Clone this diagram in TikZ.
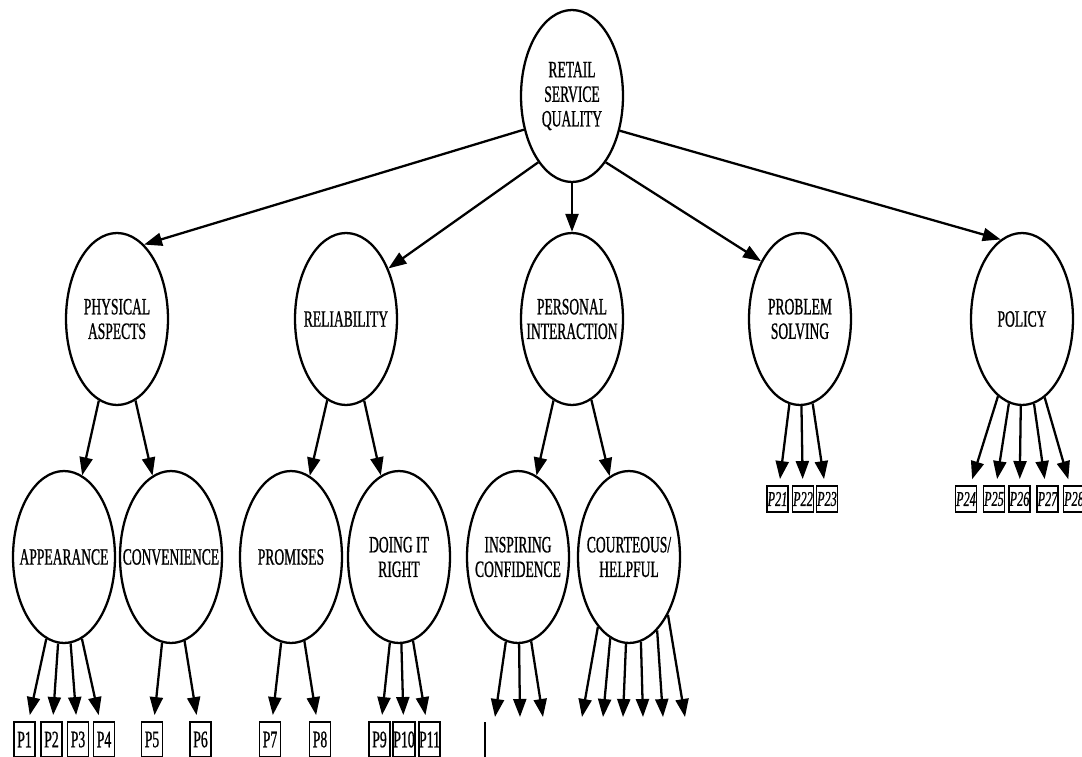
\documentclass[tikz,border=0pt]{standalone}
\usepackage{fontspec}
\newfontfamily\condfont[FakeStretch=0.58,FakeBold=0.8]{Liberation Serif}
\usetikzlibrary{arrows.meta,shapes.geometric}

\begin{document}
\begin{tikzpicture}[x=0.02cm,y=-0.02cm,
	factor/.style={draw,ellipse,line width=1.3pt,minimum width=2.04cm,minimum height=3.44cm,inner sep=0pt},
	ftext/.style={inner sep=0pt,align=center,font=\condfont\fontsize{13.3}{14}\selectfont},
	item/.style={draw,rectangle,line width=1.1pt,minimum width=0.42cm,minimum height=0.52cm,
		inner sep=0pt,font=\condfont\fontsize{12}{12}\selectfont\itshape},
	lowitem/.style={item,minimum height=0.7cm,font=\condfont\fontsize{13.5}{13.5}\selectfont},
	arr/.style={-{Triangle[length=0.36cm,width=0.26cm]},line width=1.3pt}]
				\useasboundingbox (0,0) rectangle (1082,757);
				\clip (0,0) rectangle (1082,757);
				% top
				\node[factor] (rsq) at (572,96) {};
				\node[ftext] (rsqt) at (rsq) {RETAIL\\SERVICE\\QUALITY};
				% dimensions
				\node[factor] (phys) at (117,319) {};
				\node[ftext] (physt) at (phys) {PHYSICAL\\ASPECTS};
				\node[factor] (rel) at (346,319) {};
				\node[ftext] (relt) at (rel) {RELIABILITY};
				\node[factor] (pers) at (572,319) {};
				\node[ftext] (perst) at (pers) {PERSONAL\\INTERACTION};
				\node[factor] (prob) at (800,319) {};
				\node[ftext] (probt) at (prob) {PROBLEM\\SOLVING};
				\node[factor] (pol) at (1022,319) {};
				\node[ftext] (polt) at (pol) {POLICY};
				% sub-dimensions
				\node[factor] (app) at (64,557) {};
				\node[ftext] (appt) at (app) {APPEARANCE};
				\node[factor] (conv) at (171,557) {};
				\node[ftext] (convt) at (conv) {CONVENIENCE};
				\node[factor] (prom) at (291,557) {};
				\node[ftext] (promt) at (prom) {PROMISES};
				\node[factor] (doing) at (399,557) {};
				\node[ftext] (doingt) at (doing) {DOING IT\\RIGHT};
				\node[factor] (insp) at (518,557) {};
				\node[ftext] (inspt) at (insp) {INSPIRING\\CONFIDENCE};
				\node[factor] (court) at (629,557) {};
				\node[ftext] (courtt) at (court) {COURTEOUS/\\HELPFUL};
				% items
				\node[lowitem] (p1) at (24.5,739.5) {P1};
				\node[lowitem] (p2) at (51.5,739.5) {P2};
				\node[lowitem] (p3) at (78,739.5) {P3};
				\node[lowitem] (p4) at (104,739.5) {P4};
				\node[lowitem] (p5) at (152,739.5) {P5};
				\node[lowitem] (p6) at (200.5,739.5) {P6};
				\node[lowitem] (p7) at (270,739.5) {P7};
				\node[lowitem] (p8) at (320,739.5) {P8};
				\node[lowitem] (p9) at (379.5,739.5) {P9};
				\node[lowitem] (p10) at (404,739.5) {P10};
				\node[lowitem] (p11) at (429.5,739.5) {P11};
				\node[item] (p21) at (777.5,499) {P21};
				\node[item] (p22) at (803,499) {P22};
				\node[item] (p23) at (827,499) {P23};
				\node[item] (p24) at (966,499) {P24};
				\node[item] (p25) at (994,499) {P25};
				\node[item] (p26) at (1019.5,499) {P26};
				\node[item] (p27) at (1047.5,499) {P27};
				\node[item] (p28) at (1074,499) {P28};
				\coordinate (i1) at (495,717);
				\coordinate (i2) at (520,717);
				\coordinate (i3) at (543,717);
				\coordinate (c1) at (582,717);
				\coordinate (c2) at (603,717);
				\coordinate (c3) at (623,717);
				\coordinate (c4) at (643,717);
				\coordinate (c5) at (663,717);
				\coordinate (c6) at (685,717);
				\coordinate (cut) at (485,722);
				\coordinate (cutend) at (485,757);
				% arrows
				\draw[arr] (rsq.215) to (phys.70);
				\draw[arr] (rsq.243) to (rel.50);
				\draw[arr] (rsq.south) to (pers.north);
				\draw[arr] (rsq.297) to (prob.124);
				\draw[arr] (rsq.324) to (pol.105);
				\draw[arr] (phys) to (app);
				\draw[arr] (phys) to (conv);
				\draw[arr] (rel) to (prom);
				\draw[arr] (rel) to (doing);
				\draw[arr] (pers) to (insp);
				\draw[arr] (pers) to (court);
				\draw[arr,shorten >=0.12cm] (app) to (p1);
				\draw[arr,shorten >=0.12cm] (app) to (p2);
				\draw[arr,shorten >=0.12cm] (app) to (p3);
				\draw[arr,shorten >=0.12cm] (app) to (p4);
				\draw[arr,shorten >=0.12cm] (conv) to (p5);
				\draw[arr,shorten >=0.12cm] (conv) to (p6);
				\draw[arr,shorten >=0.12cm] (prom) to (p7);
				\draw[arr,shorten >=0.12cm] (prom) to (p8);
				\draw[arr,shorten >=0.12cm] (doing) to (p9);
				\draw[arr,shorten >=0.12cm] (doing) to (p10);
				\draw[arr,shorten >=0.12cm] (doing) to (p11);
				\draw[arr,shorten >=0.12cm] (prob) to (p21);
				\draw[arr,shorten >=0.12cm] (prob) to (p22);
				\draw[arr,shorten >=0.12cm] (prob) to (p23);
				\draw[arr,shorten >=0.12cm] (pol) to (p24);
				\draw[arr,shorten >=0.12cm] (pol) to (p25);
				\draw[arr,shorten >=0.12cm] (pol) to (p26);
				\draw[arr,shorten >=0.12cm] (pol) to (p27);
				\draw[arr,shorten >=0.12cm] (pol) to (p28);
				\draw[arr] (insp) to (i1);
				\draw[arr] (insp) to (i2);
				\draw[arr] (insp) to (i3);
				\draw[arr] (court.246) to (c1);
				\draw[arr] (court.257) to (c2);
				\draw[arr] (court.268) to (c3);
				\draw[arr] (court.278) to (c4);
				\draw[arr] (court.291) to (c5);
				\draw[arr] (court.304) to (c6);
				\draw[line width=1.1pt] (cut) to (cutend);
			\end{tikzpicture}
\end{document}
